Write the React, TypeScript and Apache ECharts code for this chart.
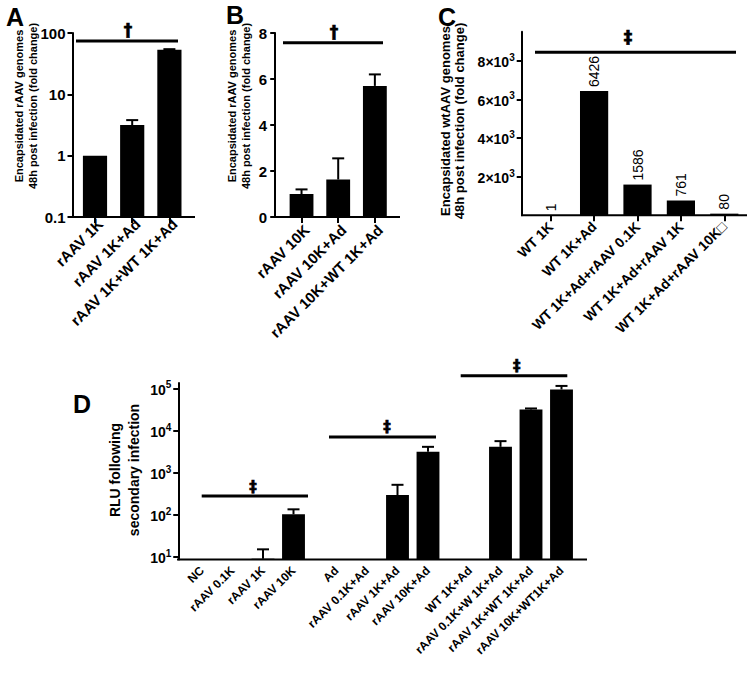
import React, { useEffect, useRef } from 'react';
import * as echarts from 'echarts';

const FONT = '"Liberation Sans", Arial, "DejaVu Sans", sans-serif';
const SYM_FONT = '"DejaVu Sans", "Liberation Sans", sans-serif';

// ---- Panel A (log scale, fold change)
const catsA = ['rAAV 1K', 'rAAV 1K+Ad', 'rAAV 1K+WT 1K+Ad'];
const valsA = [1, 3.15, 53.5];
const errA: (number | null)[] = [null, 3.8, 54.5];
const ticksA = [0.1, 1, 10, 100];

// ---- Panel B (linear, fold change)
const catsB = ['rAAV 10K', 'rAAV 10K+Ad', 'rAAV 10K+WT 1K+Ad'];
const valsB = [1.0, 1.63, 5.7];
const errB: (number | null)[] = [1.2, 2.55, 6.2];

// ---- Panel C (wtAAV genomes)
const catsC = ['WT 1K', 'WT 1K+Ad', 'WT 1K+Ad+rAAV 0.1K', 'WT 1K+Ad+rAAV 1K', 'WT 1K+Ad+rAAV 10K\u25A1'];
const valsC = [1, 6426, 1586, 761, 80];
const ticksC = [2000, 4000, 6000, 8000];

// ---- Panel D (RLU, log scale) three groups
const catsD1 = ['NC', 'rAAV 0.1K', 'rAAV 1K', 'rAAV 10K'];
const valsD1: (number | null)[] = [null, null, 9, 102];
const errD1: (number | null)[] = [null, null, 15, 134];
const catsD2 = ['Ad', 'rAAV 0.1K+Ad', 'rAAV 1K+Ad', 'rAAV 10K+Ad'];
const valsD2: (number | null)[] = [null, null, 292, 3120];
const errD2: (number | null)[] = [null, null, 513, 4100];
const catsD3 = ['WT 1K+Ad', 'rAAV 0.1K+W 1K+Ad', 'rAAV 1K+WT 1K+Ad', 'rAAV 10K+WT1K+Ad'];
const valsD3: (number | null)[] = [null, 4100, 31700, 94700];
const errD3: (number | null)[] = [null, 5600, 33500, 115000];
const ticksD = [10, 100, 1000, 10000, 100000];

const black = '#000';

function errSeries(xi: number, vals: (number | null)[], errs: (number | null)[]) {
  return {
    type: 'custom',
    xAxisIndex: xi,
    yAxisIndex: xi,
    encode: { x: 0, y: [1, 2] },
    data: vals.map((v, i) => [i, errs[i] == null ? '-' : v, errs[i] == null ? '-' : errs[i]]),
    z: 3,
    renderItem: (params: any, api: any) => {
      const v = api.value(1);
      const e = api.value(2);
      if (v == null || e == null || isNaN(v) || isNaN(e)) return null;
      const p0 = api.coord([api.value(0), v]);
      const p1 = api.coord([api.value(0), e]);
      const half = 6;
      return {
        type: 'group',
        children: [
          { type: 'line', shape: { x1: p0[0], y1: p0[1], x2: p1[0], y2: p1[1] }, style: { stroke: black, lineWidth: 2 } },
          { type: 'line', shape: { x1: p1[0] - half, y1: p1[1], x2: p1[0] + half, y2: p1[1] }, style: { stroke: black, lineWidth: 2 } },
        ],
      };
    },
  };
}

function xCat(gridIndex: number, data: string[], fontSize: number, ticks: boolean, lab: any = {}) {
  return {
    type: 'category',
    gridIndex,
    data,
    axisLine: { show: false },
    axisTick: { show: ticks, alignWithLabel: true, length: 6, lineStyle: { color: black, width: 2 } },
    axisLabel: { interval: 0, rotate: 45, margin: 9, fontSize, fontWeight: 'bold', color: black, fontFamily: FONT, ...lab },
    splitLine: { show: false },
  };
}

const yBase = (gridIndex: number, offset: number, fontSize: number) => ({
  gridIndex,
  offset,
  axisLine: { show: true, lineStyle: { color: black, width: 2 } },
  axisTick: { show: true, length: 5, lineStyle: { color: black, width: 2 } },
  axisLabel: { margin: 8, fontSize, fontWeight: 'bold', color: black, fontFamily: FONT },
  splitLine: { show: false },
});

const supRich = (base: number, sup: number) => ({
  b: { fontSize: base, fontWeight: 'bold', fontFamily: FONT, color: black, lineHeight: base + 3, verticalAlign: 'bottom' },
  s: { fontSize: sup, fontWeight: 'bold', fontFamily: FONT, color: black, verticalAlign: 'top' },
});

const hline = (x1: number, x2: number, y: number, w: number) => ({
  type: 'line',
  shape: { x1, y1: y, x2, y2: y },
  style: { stroke: black, lineWidth: w },
  silent: true,
});

const txt = (x: number, y: number, text: string, size: number, extra: any = {}) => ({
  type: 'text',
  x,
  y,
  silent: true,
  style: { text, fontSize: size, fontWeight: 'bold', fontFamily: FONT, fill: black, align: 'center', verticalAlign: 'middle', ...extra },
});

const sym = (x: number, y: number, text: string, size: number) =>
  txt(x, y, text, size, { fontFamily: SYM_FONT, fontWeight: 'bold', stroke: black, lineWidth: 0.6 });

const vtxt = (x: number, y: number, text: string, size: number, lh: number) => ({
  type: 'text',
  x,
  y,
  rotation: Math.PI / 2,
  silent: true,
  style: { text, fontSize: size, lineHeight: lh, fontWeight: 'bold', fontFamily: FONT, fill: black, align: 'center', verticalAlign: 'middle' },
});

function buildOption() {
  const dFmt = (v: number) => {
    const l = Math.log10(v);
    const e = Math.round(l);
    if (Math.abs(l - e) > 0.01) return '';
    return `{b|10}{s|${e}}`;
  };
  const dY = (gi: number, show: boolean) => ({
    ...yBase(gi, 8.5, 14),
    type: 'log',
    logBase: 10,
    min: 8.6,
    max: 135000,
    startValue: 8.6,
    show,
    axisTick: { show: true, length: 5, lineStyle: { color: black, width: 2 }, customValues: ticksD },
    axisLabel: { margin: 7, color: black, fontFamily: FONT, formatter: dFmt, customValues: ticksD, rich: supRich(14, 10) },
  });

  return {
    animation: false,
    backgroundColor: '#fff',
    grid: [
      { left: 76.4, top: 33, width: 111.6, height: 184 },
      { left: 283.2, top: 33, width: 110, height: 184 },
      { left: 529, top: 31.7, width: 217, height: 183.5 },
      { left: 186.75, top: 383, width: 122, height: 176.5 },
      { left: 321.25, top: 383, width: 122, height: 176.5 },
      { left: 454.75, top: 383, width: 122, height: 176.5 },
    ],
    xAxis: [
      xCat(0, catsA, 15, true, { verticalAlign: 'top', align: 'right', margin: -1 }),
      xCat(1, catsB, 15, true, { verticalAlign: 'top', align: 'right', margin: 5 }),
      xCat(2, catsC, 14, true),
      xCat(3, catsD1, 12, false),
      xCat(4, catsD2, 12, false),
      xCat(5, catsD3, 12, false),
    ],
    yAxis: [
      {
        ...yBase(0, 3.9, 15),
        type: 'log',
        logBase: 10,
        min: ticksA[0],
        max: ticksA[ticksA.length - 1],
        startValue: ticksA[0],
        axisLabel: {
          margin: 7, fontSize: 15, fontWeight: 'bold', color: black, fontFamily: FONT,
          formatter: (v: number) => (v >= 1 ? String(Math.round(v)) : String(+v.toPrecision(2))),
        },
      },
      { ...yBase(1, 8, 15), type: 'value', min: 0, max: 8, interval: 2 },
      {
        ...yBase(2, 7.3, 14),
        type: 'value',
        min: 0,
        max: 9500,
        interval: 2000,
        axisTick: { show: true, length: 5, lineStyle: { color: black, width: 2 }, customValues: ticksC },
        axisLabel: {
          margin: 7, color: black, fontFamily: FONT,
          customValues: ticksC,
          rich: supRich(14, 10),
          formatter: (v: number) => (v === 0 ? '' : `{b|${v / 1000}\u00D710}{s|3}`),
        },
      },
      dY(3, true),
      dY(4, false),
      dY(5, false),
    ],
    series: [
      { type: 'bar', xAxisIndex: 0, yAxisIndex: 0, data: valsA, barWidth: '65%', itemStyle: { color: black } },
      errSeries(0, valsA, errA),
      { type: 'bar', xAxisIndex: 1, yAxisIndex: 1, data: valsB, barWidth: '65%', itemStyle: { color: black } },
      errSeries(1, valsB, errB),
      {
        type: 'bar', xAxisIndex: 2, yAxisIndex: 2, data: valsC, barWidth: '65%', itemStyle: { color: black },
        label: {
          show: true, position: 'top', rotate: 90, align: 'left', verticalAlign: 'middle', distance: 4,
          fontSize: 14, color: black, fontFamily: FONT,
        },
      },
      { type: 'bar', xAxisIndex: 3, yAxisIndex: 3, data: valsD1, barWidth: '75%', itemStyle: { color: black } },
      errSeries(3, valsD1, errD1),
      { type: 'bar', xAxisIndex: 4, yAxisIndex: 4, data: valsD2, barWidth: '75%', itemStyle: { color: black } },
      errSeries(4, valsD2, errD2),
      { type: 'bar', xAxisIndex: 5, yAxisIndex: 5, data: valsD3, barWidth: '75%', itemStyle: { color: black } },
      errSeries(5, valsD3, errD3),
    ],
    graphic: [
      // x-axis lines
      hline(71, 195, 217, 2),
      hline(274, 400, 217, 2),
      hline(521, 747, 215.2, 2),
      hline(177, 587, 559.5, 2),
      // significance brackets
      hline(76, 178, 41, 3),
      sym(128, 30, '\u2020', 17),
      hline(283, 383, 42.7, 3),
      sym(334, 32, '\u2020', 17),
      hline(535, 736, 52.3, 3),
      sym(628, 37, '\u2021', 17),
      hline(201.7, 308, 496, 3),
      sym(253, 486.5, '\u2021', 15),
      hline(329, 436, 437, 3),
      sym(387, 427, '\u2021', 15),
      hline(460.7, 567.3, 375.7, 3),
      sym(516.7, 365.5, '\u2021', 15),
      // panel letters
      txt(15, 17, 'A', 25),
      txt(235, 15, 'B', 25),
      txt(447, 17, 'C', 25),
      txt(82, 404, 'D', 25),
      // y-axis titles
      vtxt(25.5, 106, 'Encapsidated rAAV genomes\n48h post infection (fold change)', 11, 14),
      vtxt(239, 106, 'Encapsidated rAAV genomes\n48h post infection (fold change)', 11, 14),
      vtxt(452, 121, 'Encapsidated wtAAV genomes\n48h post infection (fold change)', 13, 14),
      vtxt(124.5, 470, 'RLU following\nsecondary infection', 14, 19),
    ],
  };
}

export default function App() {
  const ref = useRef<HTMLDivElement>(null);
  useEffect(() => {
    const chart = echarts.init(ref.current!, null, { renderer: 'svg' });
    chart.setOption(buildOption() as any);
    return () => chart.dispose();
  }, []);
  return (
    <div
      ref={ref}
      style={{ position: 'absolute', left: 0, top: 0, width: 750, height: 675, background: '#fff' }}
    />
  );
}
